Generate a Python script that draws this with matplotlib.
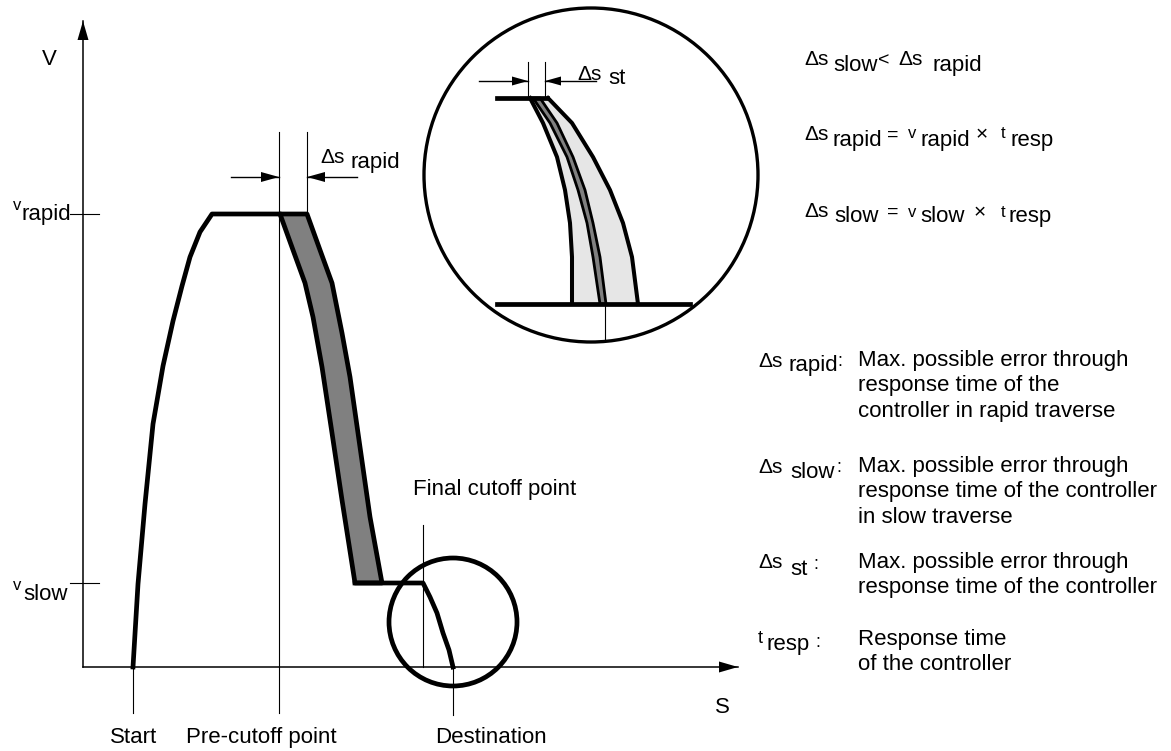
import numpy as np
import matplotlib.pyplot as plt
from matplotlib.patches import Circle

plt.rcParams['font.family'] = ['Liberation Sans', 'DejaVu Sans']

W, H = 1171, 751

# diagram units: s to the right, v upwards, origin at the axes crossing
v_rapid = 453
v_slow = 84
s_precut = 196
s_precut_late = 224
s_final = 340
s_dest = 370
s_start = 50

# acceleration ramp up to rapid speed
accel_s = [50, 55, 62, 70, 80, 90, 99, 107, 117, 129]
accel_v = [0, 83, 163, 243, 301, 346, 381, 410, 435, 453]

# braking band (rapid -> slow), left and right edge
band_left_s = [197, 210, 222, 230, 239, 249, 259, 272]
band_left_v = [453, 417, 384, 350, 300, 234, 167, 84]
band_right_s = [224, 237, 249, 259, 267, 275, 287, 299]
band_right_v = [453, 417, 384, 334, 290, 234, 150, 84]

# final braking (slow -> stop)
decel_s = [340, 347, 354, 360, 366, 370]
decel_v = [84, 70, 54, 34, 17, 0]

# magnified view of the final braking
zoom_top_s = [414, 464]
zoom_top_v = 569
zoom_bot_s = [414, 607]
zoom_bot_v = 363
zoom_v = [569, 544, 510, 477, 444, 410, 363]
zoom_outer_l_s = [447, 460, 474, 482, 487, 489, 489]
zoom_dark_l_s = [450, 467, 484, 495, 504, 510, 517]
zoom_dark_r_s = [457, 474, 490, 502, 510, 517, 523]
zoom_outer_r_s = [465, 489, 510, 527, 540, 549, 555]

fig = plt.figure(figsize=(W / 100, H / 100), dpi=100)
ax = fig.add_axes([0, 0, 1, 1])
ax.set_xlim(-83, W - 83)
ax.set_ylim(667 - H, 667)
ax.axis('off')

THICK = 3.4
THIN = 0.8
GRAY = '#808080'
LIGHT = '#e6e6e6'


def arrow(x0, y0, x1, y1, hl=18, hw=10, lw=1.0):
    ax.plot([x0, x1], [y0, y1], color='k', lw=lw)
    d = np.array([x1 - x0, y1 - y0], float)
    d /= np.hypot(*d)
    n = np.array([-d[1], d[0]])
    tip = np.array([x1, y1])
    base = tip - d * hl
    ax.fill(*np.array([tip, base + n * hw / 2, base - n * hw / 2]).T,
            color='k', lw=0)


# axes of the diagram
arrow(0, 0, 0, 646, hl=19, hw=11, lw=1.1)
arrow(0, 0, 655, 0, hl=19, hw=11, lw=1.1)
ax.plot([-13, 16], [v_rapid, v_rapid], color='k', lw=THIN)
ax.plot([-13, 16], [v_slow, v_slow], color='k', lw=THIN)

# reference lines
ax.plot([s_start, s_start], [0, -46], color='k', lw=THIN)
ax.plot([s_precut, s_precut], [535, -46], color='k', lw=THIN)
ax.plot([s_precut_late, s_precut_late], [535, v_rapid], color='k', lw=THIN)
ax.plot([s_final, s_final], [142, 0], color='k', lw=THIN)
ax.plot([s_dest, s_dest], [4, -48], color='k', lw=THIN)

arrow(148, 490, s_precut, 490)
arrow(274, 490, s_precut_late, 490)

# velocity profile
ax.fill(band_left_s + band_right_s[::-1], band_left_v + band_right_v[::-1],
        facecolor=GRAY, edgecolor='k', lw=THICK, joinstyle='round')
ax.plot(accel_s + [s_precut], accel_v + [v_rapid], color='k', lw=THICK,
        solid_joinstyle='round')
ax.plot([band_left_s[-1]] + decel_s, [v_slow] + decel_v,
        color='k', lw=THICK, solid_joinstyle='round')

ax.add_patch(Circle((s_dest, 45), 64, fill=False, ec='k', lw=THICK))

# magnified view
ax.add_patch(Circle((508, 492), 167, fill=False, ec='k', lw=2.4))
ax.fill(zoom_outer_l_s + zoom_outer_r_s[::-1], zoom_v + zoom_v[::-1],
        color=LIGHT, lw=0)
ax.fill(zoom_dark_l_s + zoom_dark_r_s[::-1], zoom_v + zoom_v[::-1],
        facecolor=GRAY, edgecolor='k', lw=2.0)
ax.plot(zoom_outer_l_s, zoom_v, color='k', lw=2.9, solid_joinstyle='round')
ax.plot(zoom_outer_r_s, zoom_v, color='k', lw=2.9, solid_joinstyle='round')
ax.plot(zoom_top_s, [zoom_top_v] * 2, color='k', lw=THICK)
ax.plot(zoom_bot_s, [zoom_bot_v] * 2, color='k', lw=THICK)
ax.plot([445, 445], [569, 605], color='k', lw=THIN)
ax.plot([462, 462], [569, 605], color='k', lw=THIN)
ax.plot([522, 522], [363, 327], color='k', lw=THIN)
arrow(396, 586, 445, 586, hl=16, hw=9)
arrow(513, 586, 462, 586, hl=16, hw=9)


# text, placed in pixel coordinates (baseline)
def put(x, y, s, size=16):
    fig.text(x / W, 1 - y / H, s, fontsize=size, va='baseline', ha='left')


def rich(y, parts):
    for x, dy, s, size in parts:
        put(x, y + dy, s, size)


put(42, 65, 'V')
put(715, 713, 'S')
rich(220, [(13, -10, 'v', 12), (22, 0, 'rapid', 16)])
rich(600, [(13, -10, 'v', 12), (23, 0, 'slow', 16)])
rich(163, [(320, 0, 'Δs', 15), (351, 5, 'rapid', 16)])
rich(80, [(577, 0, 'Δs', 15), (608, 4, 'st', 16)])
put(413, 495, 'Final cutoff point')
put(110, 743, 'Start')
put(186, 743, 'Pre-cutoff point')
put(435, 743, 'Destination')

rich(65, [(804, 0, 'Δs', 15), (833, 6, 'slow', 16), (878, 0, '<', 14),
          (898, 0, 'Δs', 15), (932, 6, 'rapid', 16)])
rich(140, [(804, 0, 'Δs', 15), (832, 6, 'rapid', 16), (887, 0, '=', 14),
           (908, -2, 'v', 12), (920, 6, 'rapid', 16), (976, 0, '×', 15),
           (1001, -2, 't', 12), (1011, 6, 'resp', 16)])
rich(217, [(804, 0, 'Δs', 15), (834, 5, 'slow', 16), (887, 0, '=', 14),
           (908, 0, 'v', 12), (920, 5, 'slow', 16), (974, 1, '×', 15),
           (1001, 0, 't', 12), (1009, 5, 'resp', 16)])

DX = 858
rich(367, [(758, 0, 'Δs', 15), (788, 4, 'rapid', 16), (837, -1, ':', 13)])
for i, line in enumerate(['Max. possible error through', 'response time of the',
                          'controller in rapid traverse']):
    put(DX, 366 + 25.5 * i, line)

rich(473, [(758, 0, 'Δs', 15), (790, 5, 'slow', 16), (836, -1, ':', 13)])
for i, line in enumerate(['Max. possible error through',
                          'response time of the controller', 'in slow traverse']):
    put(DX, 472 + 25.5 * i, line)

rich(568, [(758, 0, 'Δs', 15), (790, 7, 'st', 16), (813, 1, ':', 13)])
for i, line in enumerate(['Max. possible error through',
                          'response time of the controller']):
    put(DX, 568 + 25.5 * i, line)

rich(643, [(758, 0, 't', 13), (767, 7, 'resp', 16), (815, 4, ':', 13)])
for i, line in enumerate(['Response time', 'of the controller']):
    put(DX, 645 + 25.5 * i, line)

fig.savefig('out.png', dpi=100)
